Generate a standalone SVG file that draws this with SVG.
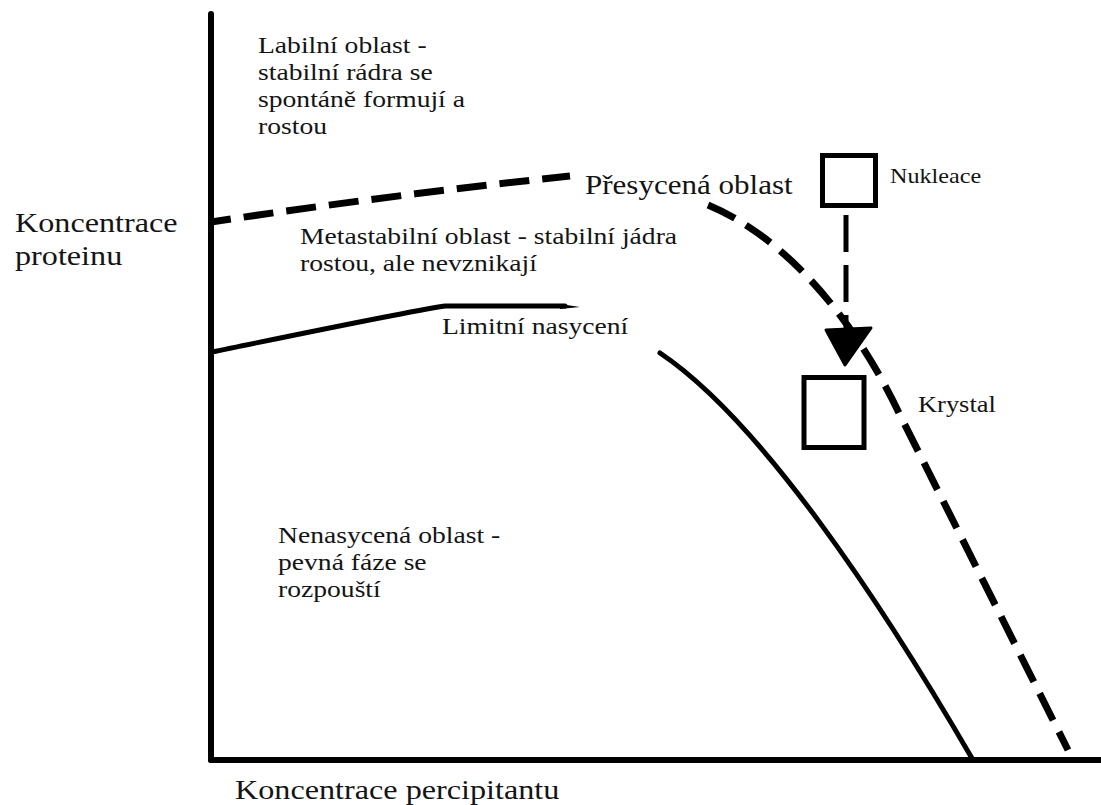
<svg xmlns="http://www.w3.org/2000/svg" width="1101" height="805" viewBox="0 0 1101 805">
<style>
.t{fill:#141414}
.r{font-size:24px}
.ax{font-size:28px}
.axis{stroke:#000;stroke-width:6;fill:none;stroke-linecap:round}
.solid{stroke:#000;stroke-width:5;fill:none;stroke-linecap:round}
.dash{stroke:#000;stroke-width:7;fill:none;stroke-dasharray:30 13}
.box{fill:none;stroke:#000;stroke-width:5}
</style>
<defs/>
<rect width="1101" height="805" fill="#fff"/>
<g id="connectors">
<path class="solid" d="M212 352 C300 334 400 313 445 306 L565 306"/>
<path d="M560 304 L580 307 L560 309 Z" fill="#000"/>
<path class="solid" d="M660 353 C760 420 880 600 973 760"/>
<path class="dash" stroke-dashoffset="10" d="M211 222 Q390 195 570 176"/>
<path class="dash" d="M708 205 C780 235 850 310 900 415 L1068 750"/>
<line x1="846" y1="215" x2="846" y2="331" stroke="#000" stroke-width="5" stroke-dasharray="37 13"/>
<polygon points="826,330 871,328 845,365" fill="#000" stroke="#000" stroke-width="3" stroke-linejoin="round"/>
</g>
<g id="axes">
<line class="axis" x1="211" y1="14" x2="211" y2="760"/>
<line class="axis" x1="211" y1="760" x2="1104" y2="760"/>
</g>
<g id="y-label"><text class="t ax" font-family="Liberation Serif" transform="translate(15 232) scale(1.15 1)"><tspan x="0" y="0">Koncentrace</tspan><tspan x="0" dy="33">proteinu</tspan></text></g>
<g id="x-label"><text class="t ax" font-family="Liberation Serif" transform="translate(235 799) scale(1.15 1)">Koncentrace percipitantu</text></g>
<g id="labilni"><text class="t r" font-family="Liberation Serif" transform="translate(258 53) scale(1.15 1)"><tspan x="0" y="0">Labilní oblast -</tspan><tspan x="0" dy="27">stabilní rádra se</tspan><tspan x="0" dy="27">spontáně formují a</tspan><tspan x="0" dy="27">rostou</tspan></text></g>
<g id="presycena"><text class="t" font-family="Liberation Serif" font-size="27" transform="translate(585 194) scale(1.15 1)">Přesycená oblast</text></g>
<g id="metastabilni"><text class="t r" font-family="Liberation Serif" transform="translate(300 244) scale(1.15 1)"><tspan x="0" y="0">Metastabilní oblast - stabilní jádra</tspan><tspan x="0" dy="27">rostou, ale nevznikají</tspan></text></g>
<g id="limitni"><text class="t r" font-family="Liberation Serif" transform="translate(442 334) scale(1.15 1)">Limitní nasycení</text></g>
<g id="nenasycena"><text class="t r" font-family="Liberation Serif" transform="translate(278 543) scale(1.15 1)"><tspan x="0" y="0">Nenasycená oblast -</tspan><tspan x="0" dy="27">pevná fáze se</tspan><tspan x="0" dy="27">rozpouští</tspan></text></g>
<g id="nukleace"><rect class="box" x="822.5" y="155.5" width="53" height="50"/><text class="t" font-family="Liberation Serif" font-size="21" transform="translate(890 183) scale(1.15 1)">Nukleace</text></g>
<g id="krystal"><rect class="box" x="804" y="377.5" width="60" height="70"/><text class="t" font-family="Liberation Serif" font-size="23" transform="translate(918 412) scale(1.15 1)">Krystal</text></g>
</svg>
